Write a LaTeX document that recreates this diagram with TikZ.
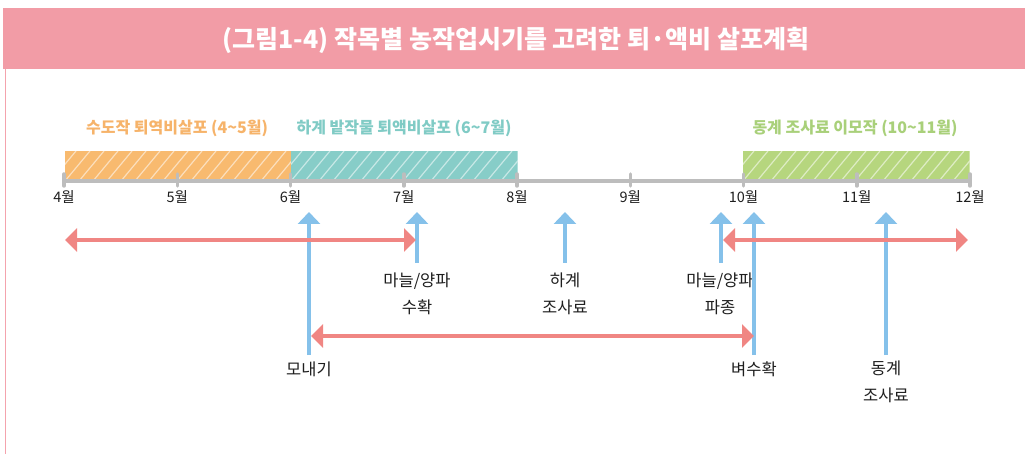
\documentclass[tikz,border=0pt]{standalone}
\usepackage{fontspec}
\setmainfont{Noto Sans CJK KR}
\usetikzlibrary{arrows.meta}
\definecolor{hdr}{HTML}{F29CA6}
\definecolor{hdrline}{HTML}{F4A3AD}
\definecolor{orng}{HTML}{F8BA6F}
\definecolor{teal}{HTML}{87CDC8}
\definecolor{grn}{HTML}{B6D67E}
\definecolor{orngtxt}{HTML}{F6B36A}
\definecolor{tealtxt}{HTML}{80CBC5}
\definecolor{grntxt}{HTML}{A9D07A}
\definecolor{axisgray}{HTML}{BDBDBD}
\definecolor{bluearr}{HTML}{85C1EA}
\definecolor{redarr}{HTML}{F08683}
\definecolor{txt}{HTML}{1E1E1E}
\tikzset{
  monthlbl/.style={font=\fontsize{14.5}{16}\selectfont, text=txt, inner sep=0pt},
  barlbl/.style={font=\fontsize{16}{18}\selectfont\bfseries, inner sep=0pt},
  evlbl/.style={font=\fontsize{16.5}{27}\selectfont, text=txt, align=center, inner sep=0pt},
  bluearrow/.style={draw=bluearr, line width=3.5pt, -{Triangle[width=22pt,length=12pt]}},
  redarrow/.style={draw=redarr, line width=4pt, {Triangle[width=23pt,length=12pt]}-{Triangle[width=23pt,length=12pt]}},
  hatch/.style={draw=white, draw opacity=0.55, line width=1.2pt},
}
\begin{document}
\begin{tikzpicture}[x=1pt,y=-1pt]
\useasboundingbox (0,0) rectangle (1025,454);
% header
\fill[hdr] (3,8) rectangle (1025,69);
\draw[hdrline, line width=1.8pt] (5.5,69) -- (5.5,454);
\node[text=white, font=\fontsize{25}{28}\selectfont\bfseries] (title) at (516,40) {(그림1-4) 작목별 농작업시기를 고려한 퇴·액비 살포계획};
% bars
\foreach \x/\c in {65/orng, 291/teal, 743/grn}{
  \begin{scope}
    \clip (\x,151) rectangle ++(226.5,30);
    \fill[\c] (\x,151) rectangle ++(226.5,30);
    \foreach \i in {-3,...,18}{
      \draw[hatch] (\x+\i*14,181) -- ++(25,-30);
    }
  \end{scope}
}
\node[barlbl, text=orngtxt] (lblA) at (177,128) {수도작 퇴역비살포 (4\textasciitilde 5월)};
\node[barlbl, text=tealtxt] (lblB) at (404,128) {하계 밭작물 퇴액비살포 (6\textasciitilde 7월)};
\node[barlbl, text=grntxt] (lblC) at (855,128) {동계 조사료 이모작 (10\textasciitilde 11월)};
% axis
\coordinate (axL) at (64,181);
\coordinate (axR) at (970,181);
\draw[axisgray, line width=3.5pt] (axL) -- (axR);
\foreach \m [count=\k from 0] in {4,...,12}{
  \draw[axisgray, line width=3.5pt, line cap=round] (64+\k*113.25,174) -- (64+\k*113.25,186);
  \node[monthlbl] (m\m) at (64+\k*113.25,197) {{\m}월};
}
% event labels
\node[evlbl] (e1) at (417,293.5) {마늘/양파\\수확};
\node[evlbl] (e2) at (565,293.5) {하계\\조사료};
\node[evlbl] (e3) at (720,293.5) {마늘/양파\\파종};
\node[evlbl] (e4) at (309,369) {모내기};
\node[evlbl] (e5) at (754,369) {벼수확};
\node[evlbl] (e6) at (886,382) {동계\\조사료};
% blue arrows
\coordinate (b1s) at (417,263); \coordinate (b1t) at (417,212);
\coordinate (b2s) at (565,263); \coordinate (b2t) at (565,212);
\coordinate (b3s) at (721,263); \coordinate (b3t) at (721,212);
\coordinate (b4s) at (309,355); \coordinate (b4t) at (309,212);
\coordinate (b5s) at (754,355); \coordinate (b5t) at (754,212);
\coordinate (b6s) at (886,355); \coordinate (b6t) at (886,212);
\foreach \i in {1,...,6}{\draw[bluearrow] (b\i s) -- (b\i t);}
% red arrows
\coordinate (r1a) at (65,240); \coordinate (r1b) at (416,240);
\coordinate (r2a) at (723,240); \coordinate (r2b) at (968,240);
\coordinate (r3a) at (311,336); \coordinate (r3b) at (754,336);
\draw[redarrow] (r1a) -- (r1b);
\draw[redarrow] (r2a) -- (r2b);
\draw[redarrow] (r3a) -- (r3b);
\end{tikzpicture}
\end{document}
